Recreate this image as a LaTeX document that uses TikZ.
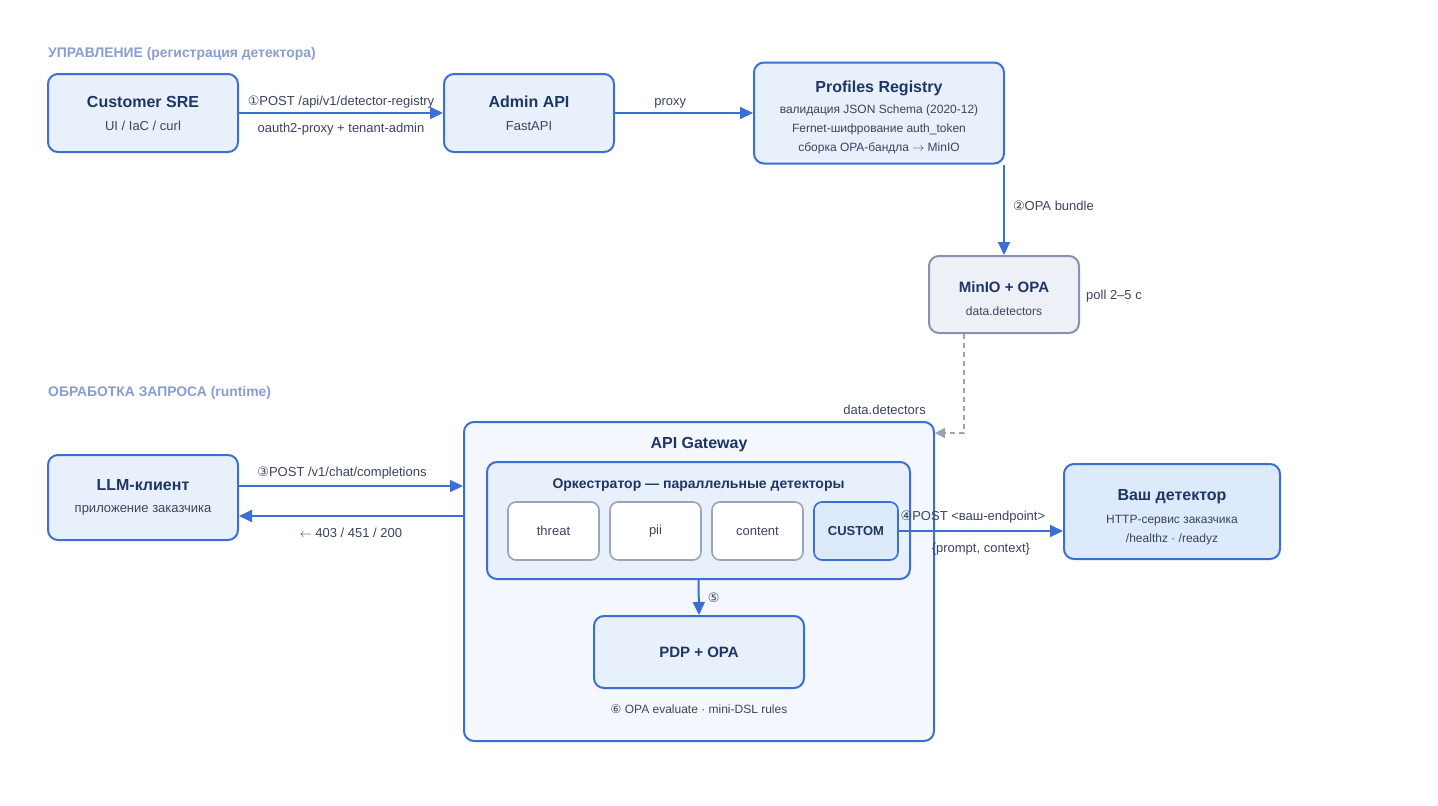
\documentclass[tikz,border=0pt]{standalone}
\usepackage{fontspec}
\setmainfont{Liberation Sans}
\newfontfamily\symfont{DejaVu Sans}
\usepackage{xcolor}
\usetikzlibrary{
    positioning,
    arrows.meta,
    calc,
}
\definecolor{edgeblue}{RGB}{58,111,214}
\definecolor{boxfill}{RGB}{232,240,252}
\definecolor{gwfill}{RGB}{244,248,254}
\definecolor{hlfill}{RGB}{220,234,251}
\definecolor{greyline}{RGB}{136,146,172}
\definecolor{greyfill}{RGB}{237,240,246}
\definecolor{childline}{RGB}{154,164,188}
\definecolor{titlecol}{RGB}{30,54,102}
\definecolor{subcol}{RGB}{58,68,94}
\definecolor{headcol}{RGB}{136,158,210}
\tikzset{
    % Box styles
    box/.style={rectangle, draw=edgeblue, line width=2pt, rounded corners=10pt,
                fill=boxfill, inner sep=0pt, align=center, text=subcol,
                font=\fontsize{13}{19}\selectfont},
    small box/.style={box, font=\fontsize{12}{19}\selectfont},
    store box/.style={small box, draw=greyline, fill=greyfill},
    gateway box/.style={box, fill=gwfill},
    detector box/.style={box, draw=childline, line width=1.6pt, fill=white,
                         rounded corners=8pt, minimum width=91pt, minimum height=58pt,
                         font=\fontsize{13}{16}\selectfont},
    custom box/.style={detector box, draw=edgeblue, fill=hlfill, minimum width=84pt,
                       text=titlecol, font=\fontsize{13}{16}\selectfont\bfseries},
    % Arrow styles
    arrow/.style={-{Triangle[length=13pt, width=12pt]}, line width=2pt, draw=edgeblue},
    poll arrow/.style={-{Triangle[length=10pt, width=10pt]}, line width=1.6pt,
                       draw=greyline!85, dash pattern=on 5pt off 4pt},
    % Annotation styles
    lbl/.style={font=\fontsize{13}{15}\selectfont, text=subcol, inner sep=0pt},
    small lbl/.style={lbl, font=\fontsize{12}{15}\selectfont},
    section/.style={font=\fontsize{13.9}{16}\selectfont\bfseries, text=headcol,
                    anchor=west, inner sep=0pt},
    inner title/.style={font=\fontsize{16}{19}\selectfont\bfseries, text=titlecol,
                        inner sep=0pt},
}
\newcommand{\boxtitle}[2][0pt]{{\fontsize{16}{19}\selectfont\bfseries\color{titlecol}\rule{0pt}{#1}#2}}
\newcommand{\midtitle}[2][0pt]{{\fontsize{15}{19}\selectfont\bfseries\color{titlecol}\rule{0pt}{#1}#2}}
\newcommand{\stepno}[1]{{\symfont #1}}

\begin{document}
\begin{tikzpicture}[x=1pt, y=-1pt]
    \fill[white] (0,0) rectangle (1438,806);
    \useasboundingbox (0,0) rectangle (1438,806);

    % Registration path
    \node[section] (head1) at (48,54) {УПРАВЛЕНИЕ (регистрация детектора)};
    \node[box, minimum width=190pt, minimum height=78pt] (customer) at (143,113)
        {\boxtitle{Customer SRE}\\[4pt]UI / IaC / curl};
    \node[box, minimum width=170pt, minimum height=78pt] (admin) at (529,113)
        {\boxtitle{Admin API}\\[4pt]FastAPI};
    \node[small box, minimum width=250pt, minimum height=101pt] (registry) at (879,113)
        {\boxtitle[20pt]{Profiles Registry}\\[2pt]валидация JSON Schema (2020-12)\\
         Fernet-шифрование auth\_token\\сборка OPA-бандла $\rightarrow$ MinIO};
    \node[store box, minimum width=150pt, minimum height=77pt] (minio) at (1004,294.5)
        {\midtitle[19pt]{MinIO + OPA}\\[4pt]data.detectors};
    \node[lbl, anchor=west] (poll) at (1086,296) {poll 2–5 с};

    \draw[arrow] (customer) -- (admin)
        node[lbl, midway, above=4pt] {\stepno{①}POST /api/v1/detector-registry}
        node[lbl, midway, below=9.5pt] {oauth2-proxy + tenant-admin};
    \draw[arrow] (admin) -- (registry)
        node[lbl, pos=0.4, above=4pt] {proxy};
    \draw[arrow] (registry.south -| minio.north) -- (minio.north)
        node[lbl, midway, right=8pt, yshift=4pt] {\stepno{②}OPA bundle};

    % Runtime path
    \node[section] (head2) at (48,393) {ОБРАБОТКА ЗАПРОСА (runtime)};
    \node[box, minimum width=190pt, minimum height=85pt] (client) at (143,497.5)
        {\boxtitle{LLM-клиент}\\[3pt]приложение заказчика};
    \node[gateway box, minimum width=470pt, minimum height=319pt] (gateway) at (699,581.5) {};
    \node[inner title] (gwtitle) at (699,445) {API Gateway};
    \node[box, minimum width=423pt, minimum height=117pt] (orch) at (698.5,520.5) {};
    \node[inner title, font=\fontsize{14}{17}\selectfont\bfseries] (orchtitle) at (698.5,485)
        {Оркестратор — параллельные детекторы};
    \node[detector box] (threat) at (553.5,531) {threat};
    \node[detector box] (pii) at (655.5,531) {pii};
    \node[detector box] (content) at (757.5,531) {content};
    \node[custom box] (custom) at (856,531) {CUSTOM};
    \node[box, minimum width=210pt, minimum height=72pt] (pdp) at (699,652)
        {\midtitle{PDP + OPA}};
    \node[small lbl] (rules) at (699,709) {\stepno{⑥} OPA evaluate · mini-DSL rules};
    \node[small box, fill=hlfill, minimum width=216pt, minimum height=95pt] (detector) at (1172,511.5)
        {\boxtitle[22pt]{Ваш детектор}\\[4pt]HTTP-сервис заказчика\\/healthz · /readyz};

    \draw[poll arrow] ([xshift=-40pt]minio.south) |- ([yshift=-12pt]gateway.north east);
    \node[lbl, anchor=east] (feedlbl) at (926,410) {data.detectors};

    \draw[arrow] ([yshift=11.5pt]client.east) -- ([yshift=11.5pt]client.east -| gateway.west)
        node[lbl, midway, above=6pt, xshift=-9pt] {\stepno{③}POST /v1/chat/completions};
    \draw[arrow] ([yshift=-18.5pt]client.east -| gateway.west) -- ([yshift=-18.5pt]client.east)
        node[lbl, midway, below=11pt] {$\leftarrow$ 403 / 451 / 200};
    \draw[arrow] (custom.east) -- (custom.east -| detector.west)
        node[lbl, midway, above=7pt, xshift=-8pt] {\stepno{④}POST <ваш-endpoint>}
        node[lbl, midway, below=11.5pt] {\{prompt, context\}};
    \draw[arrow] (orch.south) -- (pdp.north)
        node[lbl, midway, right=8pt] {\stepno{⑤}};
\end{tikzpicture}
\end{document}
